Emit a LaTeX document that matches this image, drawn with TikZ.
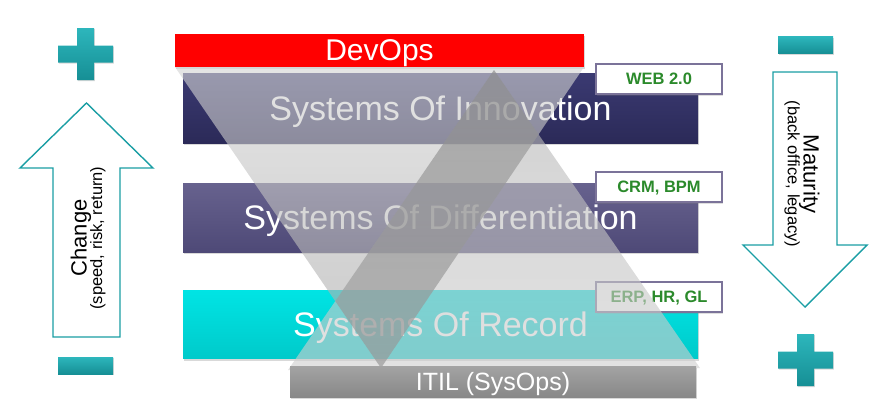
\documentclass[tikz,border=0pt]{standalone}
\usepackage{fontspec}
\setmainfont{Liberation Sans}
\usetikzlibrary{shadows}
\definecolor{innotop}{HTML}{3B3A72}
\definecolor{innobot}{HTML}{2B2A58}
\definecolor{difftop}{HTML}{67628E}
\definecolor{diffbot}{HTML}{4E4977}
\definecolor{rectop}{HTML}{00E4E4}
\definecolor{recbot}{HTML}{00CACA}
\definecolor{itiltop}{HTML}{A3A3A3}
\definecolor{itilbot}{HTML}{888888}
\definecolor{devred}{HTML}{FF0000}
\definecolor{tealline}{HTML}{1A9EA4}
\definecolor{tealtop}{HTML}{2DB6BC}
\definecolor{tealbot}{HTML}{168F95}
\definecolor{boxline}{HTML}{7B7399}
\definecolor{tagtext}{HTML}{2B8A2B}
\definecolor{tritop}{HTML}{D4D4D4}
\definecolor{tribot}{HTML}{A8A8A8}
\definecolor{utritop}{HTML}{B4B4B4}
\definecolor{utribot}{HTML}{D0D0D0}
\newcommand{\myplus}[2]{%
  \shade[top color=tealtop,bottom color=tealbot,drop shadow={shadow xshift=0.8pt,shadow yshift=-1.2pt,opacity=0.3}]
    (#1-8.5,#2-26) -- (#1+8.5,#2-26) -- (#1+8.5,#2-8.5) -- (#1+27.5,#2-8.5) -- (#1+27.5,#2+8.5)
    -- (#1+8.5,#2+8.5) -- (#1+8.5,#2+26) -- (#1-8.5,#2+26) -- (#1-8.5,#2+8.5) -- (#1-27.5,#2+8.5)
    -- (#1-27.5,#2-8.5) -- (#1-8.5,#2-8.5) -- cycle;}
\newcommand{\myminus}[2]{%
  \shade[top color=tealtop,bottom color=tealbot,drop shadow={shadow xshift=0.8pt,shadow yshift=-1.2pt,opacity=0.3}]
    (#1-27.5,#2-8.5) rectangle (#1+27.5,#2+8.5);}
\tikzset{
  bar/.style={minimum height=#1, inner sep=0pt, text=white, text depth=0pt,
    drop shadow={shadow xshift=1.2pt,shadow yshift=-2pt,opacity=0.3},
    font=\fontsize{34}{40}\selectfont},
  tag/.style={draw=boxline, line width=1.2pt, fill=white, minimum width=126pt, minimum height=30pt,
    inner sep=0pt, text=tagtext, text depth=0pt, font=\fontsize{16.5}{20}\selectfont\bfseries,
    drop shadow={shadow xshift=1pt,shadow yshift=-1.5pt,opacity=0.25}},
  bigarrow/.style={draw=tealline, line width=1.4pt, fill=white, line join=miter},
  sidetext/.style={align=center, inner sep=0pt, text=black}
}
\begin{document}
\begin{tikzpicture}[x=1pt,y=-1pt]
\useasboundingbox (0,0) rectangle (872,410);

% bars
\node[bar=70pt, minimum width=515pt, top color=innotop, bottom color=innobot] (inno) at (440.5,108) {Systems Of Innovation};
\node[bar=69pt, minimum width=515pt, top color=difftop, bottom color=diffbot] (diff) at (440.5,217.5) {Systems Of Differentiation};
\node[bar=68pt, minimum width=515pt, top color=rectop, bottom color=recbot] (rec) at (440.5,324.5) {Systems Of Record};
\node[bar=33pt, minimum width=409pt, fill=devred, font=\fontsize{30}{34}\selectfont] (devops) at (379.5,50.5) {DevOps};

% tags
\node[tag] (web) at (659,79) {WEB 2.0};
\node[tag] (crm) at (659,187) {CRM, BPM};
\node[tag] (erp) at (659,297) {ERP, HR, GL};

% translucent triangles
\coordinate (dl) at (175,67);
\coordinate (dr) at (584,67);
\coordinate (dv) at (381,368);
\coordinate (ua) at (494,70);
\coordinate (ul) at (288,370);
\coordinate (ur) at (700,368);
\shade[top color=tritop, bottom color=tribot, fill opacity=0.62] (dl) -- (dr) -- (dv) -- cycle;
\shade[top color=utritop, bottom color=utribot, fill opacity=0.62] (ua) -- (ul) -- (ur) -- cycle;
\begin{scope}
  \clip (dl) -- (dr) -- (dv) -- cycle;
  \fill[black, fill opacity=0.14] (ua) -- (ul) -- (ur) -- cycle;
\end{scope}

% ITIL bar
\node[bar=31pt, minimum width=406pt, top color=itiltop, bottom color=itilbot, font=\fontsize{25}{30}\selectfont] (itil) at (493,381.5) {ITIL (SysOps)};

% left side: change arrow
\myplus{85.5}{54}
\myminus{85.5}{365.5}
\draw[bigarrow] (53,337) -- (53,168) -- (20,168) -- (86.5,103) -- (153,168) -- (120,168) -- (120,337) -- cycle;
\node[sidetext, rotate=90] (change) at (88,238) {{\fontsize{22}{24}\selectfont Change}\\[-2pt]{\fontsize{16.5}{19}\selectfont (speed, risk, return)}};

% right side: maturity arrow
\myminus{805.5}{45}
\myplus{805.5}{360}
\draw[bigarrow] (773,72) -- (837,72) -- (837,245) -- (867,245) -- (805,307) -- (743,245) -- (773,245) -- cycle;
\node[sidetext, rotate=-90] (maturity) at (802,174) {{\fontsize{22}{24}\selectfont Maturity}\\[-2pt]{\fontsize{16.5}{19}\selectfont (back office, legacy)}};
\end{tikzpicture}
\end{document}
